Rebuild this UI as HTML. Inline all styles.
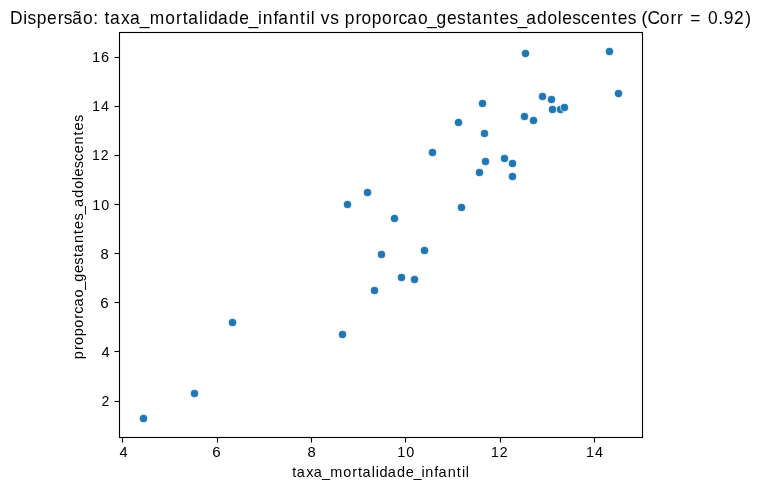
<!DOCTYPE html>
<html><head><meta charset="utf-8"><title>Dispersão</title>
<style>
html,body{margin:0;padding:0;background:#fff;}
body{width:761px;height:490px;overflow:hidden;}
svg{display:block;will-change:transform;}
text{font-family:"Liberation Sans",sans-serif;}
</style></head><body>
<svg width="761" height="490" viewBox="0 0 761 490">
<rect x="0" y="0" width="761" height="490" fill="#fff"/>
<g fill="#1f77b4" stroke="#fff" stroke-width="0.67">
<circle cx="143.5" cy="418.5" r="4.03"/>
<circle cx="194.5" cy="393.5" r="4.03"/>
<circle cx="232.5" cy="322.5" r="4.03"/>
<circle cx="342.5" cy="334.5" r="4.03"/>
<circle cx="374.5" cy="290.5" r="4.03"/>
<circle cx="347.5" cy="204.5" r="4.03"/>
<circle cx="367.5" cy="192.5" r="4.03"/>
<circle cx="381.5" cy="254.5" r="4.03"/>
<circle cx="394.5" cy="218.5" r="4.03"/>
<circle cx="401.5" cy="277.5" r="4.03"/>
<circle cx="414.5" cy="279.5" r="4.03"/>
<circle cx="424.5" cy="250.5" r="4.03"/>
<circle cx="432.5" cy="152.5" r="4.03"/>
<circle cx="458.5" cy="122.5" r="4.03"/>
<circle cx="461.5" cy="207.5" r="4.03"/>
<circle cx="479.5" cy="172.5" r="4.03"/>
<circle cx="482.5" cy="103.5" r="4.03"/>
<circle cx="484.5" cy="133.5" r="4.03"/>
<circle cx="485.5" cy="161.5" r="4.03"/>
<circle cx="504.5" cy="158.5" r="4.03"/>
<circle cx="512.5" cy="163.5" r="4.03"/>
<circle cx="512.5" cy="176.5" r="4.03"/>
<circle cx="524.5" cy="116.5" r="4.03"/>
<circle cx="525.5" cy="53.5" r="4.03"/>
<circle cx="533.5" cy="120.5" r="4.03"/>
<circle cx="542.5" cy="96.5" r="4.03"/>
<circle cx="551.5" cy="99.5" r="4.03"/>
<circle cx="552.5" cy="109.5" r="4.03"/>
<circle cx="560.5" cy="109.5" r="4.03"/>
<circle cx="564.5" cy="107.5" r="4.03"/>
<circle cx="609.5" cy="51.5" r="4.03"/>
<circle cx="618.5" cy="93.5" r="4.03"/>
</g>
<g stroke="#000" stroke-width="1.11" fill="none">
<rect x="119.5" y="32.5" width="523" height="405"/>
<line x1="122.5" y1="437.5" x2="122.5" y2="442.5"/>
<line x1="217.5" y1="437.5" x2="217.5" y2="442.5"/>
<line x1="311.5" y1="437.5" x2="311.5" y2="442.5"/>
<line x1="405.5" y1="437.5" x2="405.5" y2="442.5"/>
<line x1="500.5" y1="437.5" x2="500.5" y2="442.5"/>
<line x1="594.5" y1="437.5" x2="594.5" y2="442.5"/>
<line x1="114.5" y1="57.5" x2="119.5" y2="57.5"/>
<line x1="114.5" y1="106.5" x2="119.5" y2="106.5"/>
<line x1="114.5" y1="155.5" x2="119.5" y2="155.5"/>
<line x1="114.5" y1="204.5" x2="119.5" y2="204.5"/>
<line x1="114.5" y1="253.5" x2="119.5" y2="253.5"/>
<line x1="114.5" y1="302.5" x2="119.5" y2="302.5"/>
<line x1="114.5" y1="351.5" x2="119.5" y2="351.5"/>
<line x1="114.5" y1="401.5" x2="119.5" y2="401.5"/>
</g>
<text transform="translate(0,24.00) scale(0.9939,1)" x="10.12 23.30 27.67 36.93 47.26 58.10 64.27 72.61 83.42 93.73 99.12 105.22 110.59 121.68 130.71 140.61 150.60 166.29 177.07 183.94 189.31 200.24 204.90 209.52 219.37 230.27 240.80 250.15 259.61 264.35 275.17 279.99 291.01 301.91 308.03 312.67 316.94 322.81 332.27 340.96 346.80 357.67 363.61 374.09 384.36 395.14 400.86 409.65 420.46 429.74 439.16 449.69 459.79 469.30 474.66 485.69 496.59 502.64 512.74 520.79 529.50 540.39 550.87 561.18 565.77 575.87 584.60 594.07 604.54 615.43 621.48 631.58 640.27 645.47 651.41 663.81 674.58 681.25 687.31 694.51 706.55 712.29 722.62 728.09 738.48 749.73" y="0" font-size="17.5" fill="#000">Dispersão: taxa_mortalidade_infantil vs proporcao_gestantes_adolescentes (Corr = 0.92)</text>
<text transform="translate(0,477.00) scale(0.9919,1)" x="294.66 299.23 308.68 316.24 324.70 333.07 346.13 355.19 360.95 365.52 374.83 378.74 382.62 390.97 400.26 409.19 416.95 424.87 428.85 437.88 442.01 451.41 460.50 465.70 469.60" y="0" font-size="14.6" fill="#000">taxa_mortalidade_infantil</text>
<text transform="translate(83.00,0) rotate(-90) scale(0.9921,1)" x="-362.01 -352.81 -347.76 -338.95 -330.25 -321.19 -316.33 -308.97 -299.75 -291.94 -284.06 -275.14 -266.75 -258.98 -254.41 -245.02 -235.92 -230.78 -222.39 -215.84 -208.55 -199.26 -190.39 -181.72 -177.86 -169.47 -162.35 -154.43 -145.73 -136.63 -131.49 -123.11" y="0" font-size="14.6" fill="#000">proporcao_gestantes_adolescentes</text>
<text transform="translate(0,457.00) scale(0.9961,1)" x="119.94" y="0" font-size="14.7" fill="#000">4</text>
<text transform="translate(0,457.00) scale(1.0308,1)" x="205.89" y="0" font-size="14.7" fill="#000">6</text>
<text transform="translate(0,457.00) scale(1.0068,1)" x="305.32" y="0" font-size="14.7" fill="#000">8</text>
<text transform="translate(0,457.00) scale(0.9748,1)" x="407.49 416.66" y="0" font-size="14.7" fill="#000">10</text>
<text transform="translate(0,457.00) scale(0.9557,1)" x="513.75 522.92" y="0" font-size="14.7" fill="#000">12</text>
<text transform="translate(0,457.00) scale(0.9754,1)" x="600.90 610.07" y="0" font-size="14.7" fill="#000">14</text>
<text transform="translate(0,62.00) scale(0.9924,1)" x="92.81 101.83" y="0" font-size="14.7" fill="#000">16</text>
<text transform="translate(0,111.00) scale(0.9754,1)" x="94.45 103.62" y="0" font-size="14.7" fill="#000">14</text>
<text transform="translate(0,160.00) scale(0.9557,1)" x="96.28 105.44" y="0" font-size="14.7" fill="#000">12</text>
<text transform="translate(0,210.00) scale(0.9748,1)" x="94.59 103.77" y="0" font-size="14.7" fill="#000">10</text>
<text transform="translate(0,259.00) scale(1.0068,1)" x="99.71" y="0" font-size="14.7" fill="#000">8</text>
<text transform="translate(0,308.00) scale(1.0308,1)" x="97.24" y="0" font-size="14.7" fill="#000">6</text>
<text transform="translate(0,357.00) scale(0.9961,1)" x="101.87" y="0" font-size="14.7" fill="#000">4</text>
<text transform="translate(0,406.00) scale(0.9600,1)" x="105.81" y="0" font-size="14.7" fill="#000">2</text>
</svg>
</body></html>
